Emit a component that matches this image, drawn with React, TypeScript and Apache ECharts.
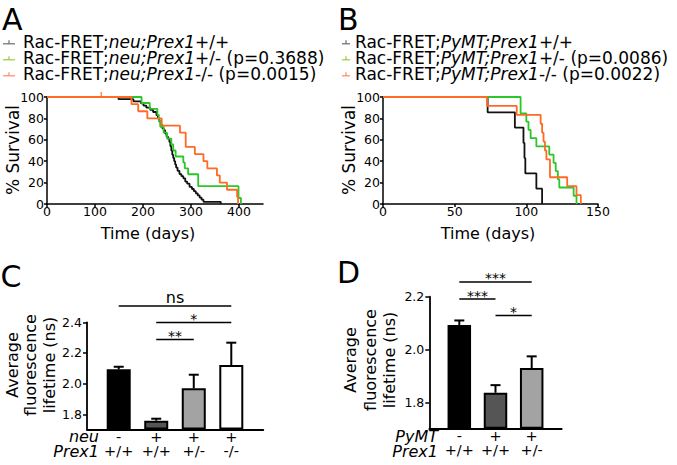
import React, { useEffect, useRef } from 'react';
import * as echarts from 'echarts';

const FONT = 'DejaVu Sans';
const INK = '#000';

// ---------- Panel A: survival, neu ----------
const tA_wt = [0, 149, 180, 196, 201, 207, 215, 221, 228, 231, 234, 237, 240, 243, 246, 249, 252, 255, 257, 259, 261, 263, 265, 267, 269, 272, 276, 280, 284, 288, 292, 297, 302, 306, 310, 314, 318, 322, 326, 362];
const sA_wt = [100, 98, 96, 94, 92, 90, 88, 86, 83, 80, 77, 74, 71, 69, 66, 63, 61, 58, 54, 50, 46, 43, 40, 37, 34, 31, 28, 26, 24, 21, 19, 16, 14, 12, 10, 8, 6, 4, 2, 0];
const tA_het = [0, 197, 214, 230, 233, 236, 243, 250, 259, 263, 268, 284, 287, 294, 315, 399, 404];
const sA_het = [100, 94.4, 88.9, 83.3, 77.8, 72.2, 66.7, 61.1, 55.6, 50, 44.4, 38.9, 33.3, 27.8, 16.7, 5.6, 0];
const tA_ko = [0, 176, 190, 209, 239, 277, 289, 308, 326, 334, 354, 360, 375, 396, 398];
const sA_ko = [100, 93.3, 86.7, 80, 73.3, 66.7, 53.3, 46.7, 40, 33.3, 26.7, 20, 13.3, 6.7, 0];
const censorA_ko = [[113, 100]];
const daysA = [0, 100, 200, 300, 400];

// ---------- Panel B: survival, PyMT ----------
const tB_wt = [0, 73, 92, 98, 98.7, 99.3, 107, 111];
const sB_wt = [100, 85.7, 71.4, 57.1, 42.9, 28.6, 14.3, 0];
const tB_het = [0, 96, 100, 101.5, 103, 107, 116, 119, 120.5, 122, 123, 133, 135];
const sB_het = [100, 84.6, 76.9, 69.2, 61.5, 53.8, 46.2, 38.5, 30.8, 23.1, 15.4, 7.7, 0];
const tB_ko = [0, 72.6, 93.3, 110, 111, 112, 113, 114, 116.5, 128.5, 135, 138];
const sB_ko = [100, 91.7, 83.3, 75, 66.7, 58.3, 50, 41.7, 25, 16.7, 8.3, 0];

// ---------- Legends ----------
const legendModelA = 'neu;Prex1';
const legendModelB = 'PyMT;Prex1';
const legendGenoA = ['+/+', '+/- (p=0.3688)', '-/- (p=0.0015)'];
const legendGenoB = ['+/+', '+/- (p=0.0086)', '-/- (p=0.0022)'];

// ---------- Panel C: lifetime, neu ----------
const meanC = [2.093, 1.758, 1.969, 2.121];
const upperC = [2.11, 1.771, 2.058, 2.267];
const rowNeuC = ['-', '+', '+', '+'];
const rowPrexC = ['+/+', '+/+', '+/-', '-/-'];
const headersC = ['neu', 'Prex1'];
const bracketsC = [[0, 3, 2.507], [1, 3, 2.398], [1, 2, 2.287]];
const bracketLabelsC = ['ns', '*', '**'];
const ticksC = [1.8, 2.0, 2.2, 2.4];

// ---------- Panel D: lifetime, PyMT ----------
const meanD = [2.093, 1.836, 1.93];
const upperD = [2.11, 1.865, 1.974];
const rowPymtD = ['-', '+', '+'];
const rowPrexD = ['+/+', '+/+', '+/-'];
const headersD = ['PyMT', 'Prex1'];
const bracketsD = [[0, 2, 2.256], [0, 1, 2.191], [1, 2, 2.129]];
const bracketLabelsD = ['***', '***', '*'];
const ticksD = [1.8, 2.0, 2.2];

const COL_BLACK = '#111111';
const COL_GREEN = '#2bc62b';
const COL_ORANGE = '#ff6a24';
const LEG_COLS = ['#6a6a6a', '#9acb3c', '#ff8a5c'];
const BAR_COLS = ['#000000', '#555555', '#a3a3a3', '#ffffff'];

const zip = (t: number[], s: number[]) => t.map((v, i) => [v, s[i]]);

function survAxisX(grid: number, extra: any) {
  return {
    gridIndex: grid,
    type: 'value',
    axisLine: { show: true, onZero: false, lineStyle: { color: INK, width: 1.5 } },
    axisTick: { show: true, length: 3, lineStyle: { color: INK, width: 1.5 } },
    axisLabel: { margin: 1, fontSize: 12.5, color: INK, fontFamily: FONT },
    splitLine: { show: false },
    ...extra,
  };
}

function survAxisY(grid: number) {
  return {
    gridIndex: grid,
    type: 'value',
    min: 0,
    max: 100,
    interval: 20,
    axisLine: { show: true, onZero: false, lineStyle: { color: INK, width: 1.5 } },
    axisTick: { show: true, length: 3, lineStyle: { color: INK, width: 1.5 } },
    axisLabel: { margin: 3, fontSize: 12.5, color: INK, fontFamily: FONT },
    splitLine: { show: false },
  };
}

function survSeries(name: string, idx: number, data: number[][], color: string) {
  return {
    name,
    type: 'line',
    xAxisIndex: idx,
    yAxisIndex: idx,
    step: 'end',
    symbol: 'none',
    showSymbol: false,
    clip: false,
    data,
    lineStyle: { color, width: 1.8 },
    itemStyle: { color },
  };
}

function barAxisX(grid: number, min: number, max: number, n: number, r1: string[], r2: string[], lh: number) {
  const vals = Array.from({ length: n }, (_, i) => i);
  return {
    gridIndex: grid,
    type: 'value',
    min,
    max,
    axisLine: { show: true, onZero: false, lineStyle: { color: INK, width: 1.8 } },
    axisTick: { show: false },
    axisLabel: {
      customValues: vals,
      margin: 0,
      fontSize: 14.5,
      lineHeight: lh,
      color: INK,
      fontFamily: FONT,
      formatter: (v: number) => {
        const i = Math.round(v);
        return r1[i] + '\n' + r2[i];
      },
    },
    splitLine: { show: false },
  };
}

function barAxisY(grid: number, max: number, ticks: number[]) {
  return {
    gridIndex: grid,
    type: 'value',
    min: 1.7,
    max,
    startValue: 1.7,
    axisLine: { show: true, onZero: false, lineStyle: { color: INK, width: 1.8 } },
    axisTick: { show: true, length: 4, customValues: ticks, lineStyle: { color: INK, width: 1.5 } },
    axisLabel: {
      customValues: ticks,
      margin: 5,
      fontSize: 12.5,
      color: INK,
      fontFamily: FONT,
      formatter: (v: number) => v.toFixed(1),
    },
    splitLine: { show: false },
  };
}

function barSeries(idx: number, means: number[], width: number) {
  return {
    type: 'bar',
    xAxisIndex: idx,
    yAxisIndex: idx,
    barWidth: width,
    clip: true,
    data: means.map((m, i) => ({ value: [i, m], itemStyle: { color: BAR_COLS[i] } })),
    itemStyle: { borderColor: INK, borderWidth: 2 },
    z: 2,
  };
}

function errSeries(idx: number, means: number[], uppers: number[]) {
  return {
    type: 'custom',
    xAxisIndex: idx,
    yAxisIndex: idx,
    clip: false,
    z: 3,
    data: means.map((m, i) => [i, m, uppers[i]]),
    renderItem: (params: any, api: any) => {
      const x = api.value(0);
      const p0 = api.coord([x, api.value(1)]);
      const p1 = api.coord([x, api.value(2)]);
      const hw = 5;
      return {
        type: 'group',
        children: [
          { type: 'line', shape: { x1: p0[0], y1: p0[1], x2: p1[0], y2: p1[1] }, style: { stroke: INK, lineWidth: 2 } },
          { type: 'line', shape: { x1: p1[0] - hw, y1: p1[1], x2: p1[0] + hw, y2: p1[1] }, style: { stroke: INK, lineWidth: 2 } },
        ],
      };
    },
  };
}

function bracketSeries(idx: number, brackets: number[][], labels: string[]) {
  return {
    type: 'custom',
    xAxisIndex: idx,
    yAxisIndex: idx,
    clip: false,
    z: 3,
    data: brackets,
    renderItem: (params: any, api: any) => {
      const y = api.value(2);
      const a = api.coord([api.value(0), y]);
      const b = api.coord([api.value(1), y]);
      const lab = labels[params.dataIndex];
      const isNs = lab === 'ns';
      return {
        type: 'group',
        children: [
          { type: 'line', shape: { x1: a[0], y1: a[1], x2: b[0], y2: a[1] }, style: { stroke: INK, lineWidth: 1.5 } },
          {
            type: 'text',
            x: (a[0] + b[0]) / 2,
            y: a[1] - (isNs ? 8.5 : 3.5),
            style: {
              text: lab,
              fontSize: isNs ? 16 : 14,
              lineHeight: isNs ? 16 : 12,
              fontFamily: FONT,
              fill: INK,
              align: 'center',
              verticalAlign: 'middle',
            },
          },
        ],
      };
    },
  };
}

function txt(x: number, y: number, text: string, size: number, extra: any = {}, rotation = 0) {
  return {
    type: 'text',
    x,
    y,
    rotation,
    style: {
      text,
      fontSize: size,
      fontFamily: FONT,
      fill: INK,
      align: 'center',
      verticalAlign: 'middle',
      ...extra,
    },
  };
}

function legendGraphics(symX1: number, symX2: number, textX: number, model: string, genos: string[]) {
  const rowsY = [42.3, 58.3, 74.3];
  const fs = 17;
  const lh = 16;
  const out: any[] = [];
  genos.forEach((g, i) => {
    const col = LEG_COLS[i];
    const sy = rowsY[i] + 1.5;
    const mid = (symX1 + symX2) / 2;
    out.push({ type: 'line', shape: { x1: symX1, y1: sy, x2: symX2, y2: sy }, style: { stroke: col, lineWidth: 1.2 } });
    out.push({ type: 'line', shape: { x1: mid, y1: sy - 3.5, x2: mid, y2: sy }, style: { stroke: col, lineWidth: 1.2 } });
  });
  const text = genos.map((g) => '{n|Rac-FRET;}{i|' + model + '}{n|' + g + '}').join('\n');
  out.push({
    type: 'text',
    x: textX,
    y: rowsY[1],
    style: {
      text,
      fontSize: fs,
      lineHeight: lh,
      fontFamily: FONT,
      fill: INK,
      align: 'left',
      verticalAlign: 'middle',
      rich: {
        n: { fontSize: fs, lineHeight: lh, fontFamily: FONT, fill: INK },
        i: { fontSize: fs, lineHeight: lh, fontFamily: FONT, fill: INK, fontStyle: 'italic' },
      },
    },
  });
  return out;
}

function buildOption() {
  const rot = Math.PI / 2;
  return {
    animation: false,
    backgroundColor: '#ffffff',
    textStyle: { fontFamily: FONT },
    grid: [
      { left: 47, top: 97, width: 216, height: 107 },
      { left: 383, top: 97, width: 215, height: 107 },
      { left: 87, top: 322.3, width: 176.3, height: 107.3 },
      { left: 429.3, top: 296.7, width: 132.4, height: 132 },
    ],
    xAxis: [
      survAxisX(0, {
        min: 0,
        max: 450,
        axisTick: { show: true, length: 3, customValues: daysA, lineStyle: { color: INK, width: 1.5 } },
        axisLabel: { customValues: daysA, margin: 1, fontSize: 12.5, color: INK, fontFamily: FONT },
      }),
      survAxisX(1, { min: 0, max: 150, interval: 50 }),
      barAxisX(2, -0.845, 3.853, 4, rowNeuC, rowPrexC, 14.5),
      barAxisX(3, -0.829, 2.829, 3, rowPymtD, rowPrexD, 14.5),
    ],
    yAxis: [survAxisY(0), survAxisY(1), barAxisY(2, 2.4, ticksC), barAxisY(3, 2.2, ticksD)],
    series: [
      survSeries('neu +/+', 0, zip(tA_wt, sA_wt), COL_BLACK),
      survSeries('neu +/-', 0, zip(tA_het, sA_het), COL_GREEN),
      survSeries('neu -/-', 0, zip(tA_ko, sA_ko), COL_ORANGE),
      {
        type: 'scatter',
        xAxisIndex: 0,
        yAxisIndex: 0,
        symbol: 'rect',
        symbolSize: [1.5, 5],
        symbolOffset: [0, -2.5],
        itemStyle: { color: COL_ORANGE },
        data: censorA_ko,
        z: 4,
      },
      survSeries('PyMT +/+', 1, zip(tB_wt, sB_wt), COL_BLACK),
      survSeries('PyMT +/-', 1, zip(tB_het, sB_het), COL_GREEN),
      survSeries('PyMT -/-', 1, zip(tB_ko, sB_ko), COL_ORANGE),
      barSeries(2, meanC, 24),
      errSeries(2, meanC, upperC),
      bracketSeries(2, bracketsC, bracketLabelsC),
      barSeries(3, meanD, 23.5),
      errSeries(3, meanD, upperD),
      bracketSeries(3, bracketsD, bracketLabelsD),
    ],
    graphic: [
      txt(2, 19, 'A', 30, { align: 'left' }),
      txt(338, 19, 'B', 30, { align: 'left' }),
      txt(0.5, 276, 'C', 30, { align: 'left' }),
      txt(337, 272.5, 'D', 30, { align: 'left' }),
      ...legendGraphics(3, 15, 23, legendModelA, legendGenoA),
      ...legendGraphics(342, 350, 355, legendModelB, legendGenoB),
      txt(12.5, 150, '% Survival', 17, {}, rot),
      txt(349, 150, '% Survival', 17, {}, rot),
      txt(148, 233.5, 'Time (days)', 16),
      txt(488, 233.5, 'Time (days)', 16),
      txt(30.5, 365, 'Average\nfluorescence\nlifetime (ns)', 16, { lineHeight: 18.5 }, rot),
      txt(370, 360, 'Average\nfluorescence\nlifetime (ns)', 16, { lineHeight: 19.5 }, rot),
      txt(99, 444.2, headersC.join('\n'), 16, { align: 'right', fontStyle: 'italic', lineHeight: 14.5 }),
      txt(438, 444.2, headersD.join('\n'), 16, { align: 'right', fontStyle: 'italic', lineHeight: 14.5 }),
    ],
  };
}

export default function App() {
  const ref = useRef<HTMLDivElement>(null);
  useEffect(() => {
    const chart = echarts.init(ref.current as HTMLDivElement, null, { renderer: 'svg' });
    chart.setOption(buildOption() as any);
    return () => chart.dispose();
  }, []);
  return (
    <div
      ref={ref}
      style={{ position: 'absolute', left: 0, top: 0, width: 677, height: 465, background: '#fff' }}
    />
  );
}
